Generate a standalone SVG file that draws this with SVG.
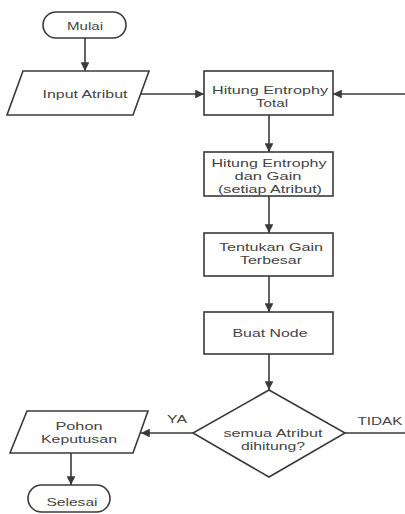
<svg xmlns="http://www.w3.org/2000/svg" width="405" height="514" viewBox="0 0 405 514">
<style>
.s{fill:#fff;stroke:#3a3a3a;stroke-width:1.6}
.t{font-family:"Liberation Sans",Arial,sans-serif;font-size:11.5px;fill:#444;text-anchor:middle}
.c{fill:none;stroke:#3a3a3a;stroke-width:1.6}
</style>
<defs>
<marker id="a" viewBox="0 0 10 10" refX="10" refY="5" markerWidth="5.5" markerHeight="5.5" orient="auto" markerUnits="strokeWidth">
<path d="M0,0 L10,5 L0,10 Z" fill="#3a3a3a"/>
</marker>
</defs>
<rect width="405" height="514" fill="#fff"/>
<g id="connectors">
<line class="c" x1="85" y1="38" x2="85" y2="71" marker-end="url(#a)"/>
<line class="c" x1="141" y1="94" x2="204" y2="94" marker-end="url(#a)"/>
<line class="c" x1="405" y1="94" x2="333" y2="94" marker-end="url(#a)"/>
<line class="c" x1="269" y1="115" x2="269" y2="152" marker-end="url(#a)"/>
<line class="c" x1="269" y1="196" x2="269" y2="233" marker-end="url(#a)"/>
<line class="c" x1="269" y1="276" x2="269" y2="312" marker-end="url(#a)"/>
<line class="c" x1="269" y1="354" x2="269" y2="390" marker-end="url(#a)"/>
<line class="c" x1="193" y1="433" x2="141" y2="433" marker-end="url(#a)"/>
<line class="c" x1="345" y1="433" x2="405" y2="433"/>
<line class="c" x1="71" y1="453" x2="71" y2="485" marker-end="url(#a)"/>
<text class="t" x="177" y="423" textLength="20" lengthAdjust="spacingAndGlyphs">YA</text>
<text class="t" x="380" y="425" textLength="45" lengthAdjust="spacingAndGlyphs">TIDAK</text>
</g>
<g id="mulai">
<rect class="s" x="43" y="12" width="83" height="26" rx="13"/>
<text class="t" x="85" y="30" textLength="36" lengthAdjust="spacingAndGlyphs">Mulai</text>
</g>
<g id="input">
<polygon class="s" points="23,71 149,71 133,115 7,115"/>
<text class="t" x="85" y="98" textLength="85" lengthAdjust="spacingAndGlyphs">Input Atribut</text>
</g>
<g id="entropy-total">
<rect class="s" x="204" y="71" width="129" height="44"/>
<text class="t" x="270" y="94" textLength="116" lengthAdjust="spacingAndGlyphs">Hitung Entrophy</text>
<text class="t" x="272" y="107" textLength="32" lengthAdjust="spacingAndGlyphs">Total</text>
</g>
<g id="entropy-gain">
<rect class="s" x="204" y="152" width="129" height="44"/>
<text class="t" x="269" y="167" textLength="115" lengthAdjust="spacingAndGlyphs">Hitung Entrophy</text>
<text class="t" x="268" y="180" textLength="67" lengthAdjust="spacingAndGlyphs">dan Gain</text>
<text class="t" x="270" y="193" textLength="104" lengthAdjust="spacingAndGlyphs">(setiap Atribut)</text>
</g>
<g id="gain-terbesar">
<rect class="s" x="204" y="233" width="129" height="43"/>
<text class="t" x="271" y="251" textLength="104" lengthAdjust="spacingAndGlyphs">Tentukan Gain</text>
<text class="t" x="271" y="264" textLength="62" lengthAdjust="spacingAndGlyphs">Terbesar</text>
</g>
<g id="buat-node">
<rect class="s" x="204" y="312" width="129" height="42"/>
<text class="t" x="270" y="337" textLength="75" lengthAdjust="spacingAndGlyphs">Buat Node</text>
</g>
<g id="decision">
<polygon class="s" points="269,390 345,433 269,477 193,433"/>
<text class="t" x="273" y="437" textLength="99" lengthAdjust="spacingAndGlyphs">semua Atribut</text>
<text class="t" x="273" y="450" textLength="64" lengthAdjust="spacingAndGlyphs">dihitung?</text>
</g>
<g id="pohon">
<polygon class="s" points="27,411 148,411 133,453 10,453"/>
<text class="t" x="79" y="430" textLength="47" lengthAdjust="spacingAndGlyphs">Pohon</text>
<text class="t" x="79" y="443" textLength="76" lengthAdjust="spacingAndGlyphs">Keputusan</text>
</g>
<g id="selesai">
<rect class="s" x="28" y="485" width="82" height="27" rx="13.5"/>
<text class="t" x="72" y="506" textLength="51" lengthAdjust="spacingAndGlyphs">Selesai</text>
</g>
</svg>
